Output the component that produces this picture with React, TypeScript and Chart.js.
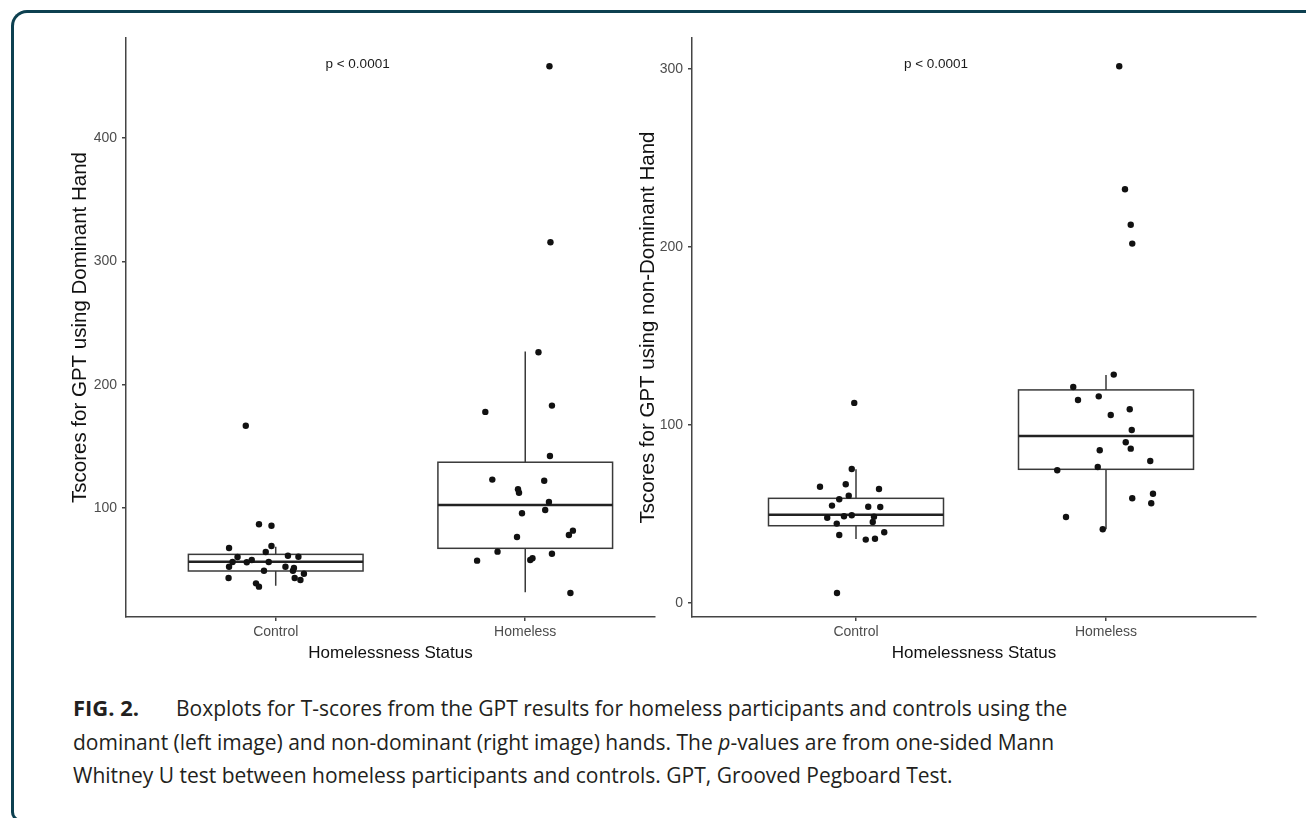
import React, { useEffect, useRef } from "react";
import { Chart, registerables } from "chart.js";

Chart.register(...registerables);

// ---------- data ----------
const categories = ["Control", "Homeless"];
const categoryPositions = [1, 2];

// Left panel: dominant hand
const domTicks = [100, 200, 300, 400];
const domControlValues = [86.8, 85.6, 69.2, 64.3, 67.6, 61.3, 60.5, 60.3, 56.2, 52.4, 56.0, 57.8, 56.2, 52.4, 51.3, 49.1, 49.1, 46.7, 43.2, 43.2, 41.6, 38.9, 36.2, 166.7];
const domControlJitter = [-0.067, -0.017, -0.017, -0.04, -0.187, 0.049, 0.091, -0.153, -0.173, -0.187, -0.116, -0.096, -0.028, 0.039, 0.073, 0.069, -0.047, 0.113, -0.189, 0.076, 0.099, -0.079, -0.067, -0.12];
const domHomelessValues = [226.3, 177.9, 183.0, 142.2, 123.0, 122.1, 115.2, 112.4, 104.9, 98.4, 95.7, 81.6, 78.1, 76.5, 64.6, 57.3, 62.9, 57.8, 59.2, 31.1, 458.2, 315.5];
const domHomelessJitter = [0.053, -0.16, 0.107, 0.099, -0.132, 0.076, -0.029, -0.025, 0.095, 0.08, -0.013, 0.191, 0.175, -0.033, -0.111, -0.193, 0.107, 0.02, 0.029, 0.181, 0.097, 0.101];
// [lower whisker, Q1, median, Q3, upper whisker]
const domControlBox = [37.0, 48.9, 56.4, 62.4, 68.6];
const domHomelessBox = [31.6, 67.3, 102.4, 137.1, 226.8];

// Right panel: non-dominant hand
const nonTicks = [0, 100, 200, 300];
const nonControlValues = [112.4, 75.3, 66.7, 64.0, 60.3, 58.3, 54.7, 54.1, 53.9, 48.7, 49.3, 47.9, 48.5, 45.5, 44.6, 39.7, 38.2, 35.6, 36.1, 65.3, 5.6];
const nonControlJitter = [-0.007, -0.017, -0.041, 0.092, -0.029, -0.067, -0.096, 0.049, 0.097, -0.048, -0.017, -0.115, 0.072, 0.067, -0.077, 0.113, -0.067, 0.039, 0.076, -0.144, -0.076];
const nonHomelessValues = [128.3, 121.3, 114.0, 116.1, 108.8, 105.6, 97.2, 90.3, 86.7, 85.8, 79.8, 74.6, 76.4, 61.4, 58.8, 56.0, 48.3, 41.4, 301.5, 232.4, 212.5, 201.9];
const nonHomelessJitter = [0.031, -0.131, -0.112, -0.029, 0.095, 0.019, 0.103, 0.079, 0.099, -0.025, 0.177, -0.195, -0.033, 0.188, 0.105, 0.181, -0.16, -0.013, 0.053, 0.076, 0.099, 0.105];
const nonControlBox = [36.0, 43.4, 49.6, 58.8, 75.1];
const nonHomelessBox = [41.4, 75.1, 93.8, 119.7, 128.1];

const pText = "p < 0.0001";

// ---------- styling ----------
const FONT = "'Liberation Sans', Arial, sans-serif";
const AXIS_COLOR = "#444444";
const TICK_TEXT = "#4d4d4d";

type PanelCfg = {
  yTitle: string;
  yTicks: number[];
  yMin: number;
  yMax: number;
  xMin: number;
  xMax: number;
  control: number[];
  controlJitter: number[];
  homeless: number[];
  homelessJitter: number[];
  boxes: number[][];
  pPos: [number, number];
  padding: { left: number; right: number; top: number; bottom: number };
  yWidth: number;
};

function makeBoxPlugin(boxes: number[][], pPos: [number, number]) {
  return {
    id: "boxes",
    beforeDatasetsDraw(chart: any) {
      const { ctx } = chart;
      const xs = chart.scales.x;
      const ys = chart.scales.y;
      const half = 0.35;
      ctx.save();
      boxes.forEach((b, i) => {
        const c = categoryPositions[i];
        const xl = xs.getPixelForValue(c - half);
        const xr = xs.getPixelForValue(c + half);
        const xc = xs.getPixelForValue(c);
        const [lo, q1, med, q3, hi] = b.map((v) => ys.getPixelForValue(v));
        ctx.strokeStyle = "#3a3a3a";
        ctx.lineWidth = 1.5;
        ctx.beginPath();
        ctx.moveTo(xc, q3);
        ctx.lineTo(xc, hi);
        ctx.moveTo(xc, q1);
        ctx.lineTo(xc, lo);
        ctx.stroke();
        ctx.strokeRect(xl, q3, xr - xl, q1 - q3);
        ctx.lineWidth = 2.6;
        ctx.strokeStyle = "#222";
        ctx.beginPath();
        ctx.moveTo(xl, med);
        ctx.lineTo(xr, med);
        ctx.stroke();
      });
      ctx.restore();
    },
    afterDatasetsDraw(chart: any) {
      const { ctx } = chart;
      const xs = chart.scales.x;
      const ys = chart.scales.y;
      ctx.save();
      ctx.font = `13.5px ${FONT}`;
      ctx.fillStyle = "#1a1a1a";
      ctx.textAlign = "center";
      ctx.textBaseline = "middle";
      ctx.fillText(pText, xs.getPixelForValue(pPos[0]), ys.getPixelForValue(pPos[1]));
      ctx.restore();
    },
  };
}

function Panel({ cfg, left, width }: { cfg: PanelCfg; left: number; width: number }) {
  const ref = useRef<HTMLCanvasElement | null>(null);
  useEffect(() => {
    if (!ref.current) return;
    const points = [
      ...cfg.control.map((v, i) => ({ x: categoryPositions[0] + cfg.controlJitter[i], y: v })),
      ...cfg.homeless.map((v, i) => ({ x: categoryPositions[1] + cfg.homelessJitter[i], y: v })),
    ];
    const chart = new Chart(ref.current, {
      type: "scatter",
      data: {
        datasets: [
          {
            data: points,
            backgroundColor: "#111111",
            borderWidth: 0,
            pointRadius: 3.2,
            pointHoverRadius: 3.2,
          },
        ],
      },
      plugins: [makeBoxPlugin(cfg.boxes, cfg.pPos)],
      options: {
        animation: false,
        responsive: false,
        maintainAspectRatio: false,
        devicePixelRatio: 1,
        layout: { padding: cfg.padding },
        plugins: { legend: { display: false }, tooltip: { enabled: false } },
        scales: {
          x: {
            type: "linear",
            min: cfg.xMin,
            max: cfg.xMax,
            afterBuildTicks: (s: any) => {
              s.ticks = categoryPositions.map((v) => ({ value: v }));
            },
            afterFit: (s: any) => {
              s.height = 51;
            },
            ticks: {
              callback: (v: any) => categories[Math.round(Number(v)) - 1] ?? "",
              color: TICK_TEXT,
              font: { family: FONT, size: 14 },
              padding: 3,
              autoSkip: false,
              maxRotation: 0,
            },
            grid: { display: true, drawOnChartArea: false, drawTicks: true, tickLength: 4, color: AXIS_COLOR, lineWidth: 1.5 },
            border: { display: true, color: AXIS_COLOR, width: 1.5 },
            title: {
              display: true,
              text: "Homelessness Status",
              color: "#111111",
              font: { family: FONT, size: 17 },
              padding: { top: 0, bottom: 4 },
            },
          },
          y: {
            type: "linear",
            min: cfg.yMin,
            max: cfg.yMax,
            afterBuildTicks: (s: any) => {
              s.ticks = cfg.yTicks.map((v) => ({ value: v }));
            },
            afterFit: (s: any) => {
              s.width = cfg.yWidth;
            },
            ticks: {
              color: TICK_TEXT,
              font: { family: FONT, size: 14 },
              padding: 5,
            },
            grid: { display: true, drawOnChartArea: false, drawTicks: true, tickLength: 4, color: AXIS_COLOR, lineWidth: 1.5 },
            border: { display: true, color: AXIS_COLOR, width: 1.5 },
            title: {
              display: true,
              text: cfg.yTitle,
              color: "#111111",
              font: { family: FONT, size: 20.5 },
              padding: { top: 3, bottom: 0 },
            },
          },
        },
      } as any,
    });
    return () => chart.destroy();
  }, [cfg]);
  return (
    <canvas
      ref={ref}
      width={width}
      height={668}
      style={{ position: "absolute", left, top: 0, width, height: 668 }}
    />
  );
}

const leftCfg: PanelCfg = {
  yTitle: "Tscores for GPT using Dominant Hand",
  yTicks: domTicks,
  yMin: 11.6,
  yMax: 481.1,
  xMin: 0.4,
  xMax: 2.52,
  control: domControlValues,
  controlJitter: domControlJitter,
  homeless: domHomelessValues,
  homelessJitter: domHomelessJitter,
  boxes: [domControlBox, domHomelessBox],
  pPos: [1.328, 460],
  padding: { left: 65, right: 5, top: 38, bottom: 0 },
  yWidth: 61,
};

const rightCfg: PanelCfg = {
  yTitle: "Tscores for GPT using non-Dominant Hand",
  yTicks: nonTicks,
  yMin: -7.87,
  yMax: 317.4,
  xMin: 0.344,
  xMax: 2.6,
  control: nonControlValues,
  controlJitter: nonControlJitter,
  homeless: nonHomelessValues,
  homelessJitter: nonHomelessJitter,
  boxes: [nonControlBox, nonHomelessBox],
  pPos: [1.32, 302.8],
  padding: { left: 3, right: 10, top: 38, bottom: 0 },
  yWidth: 59,
};

export default function App() {
  return (
    <div
      style={{
        position: "fixed",
        left: 0,
        top: 0,
        width: 1306,
        height: 818,
        overflow: "hidden",
        background: "#ffffff",
      }}
    >
      <div
        style={{
          position: "absolute",
          left: 11,
          top: 10,
          width: 1400,
          height: 806,
          borderTop: "3px solid #0d4050",
          borderLeft: "3px solid #0d4050",
          borderBottom: "3px solid #0d4050",
          borderTopLeftRadius: 16,
          borderBottomLeftRadius: 10,
        }}
      />
      <Panel cfg={leftCfg} left={0} width={660} />
      <Panel cfg={rightCfg} left={630} width={636} />
      <div
        style={{
          position: "absolute",
          left: 73,
          top: 691,
          fontFamily: "'Open Sans', 'Noto Sans', sans-serif",
          fontSize: 21,
          lineHeight: "33.5px",
          color: "#231f20",
          whiteSpace: "nowrap",
        }}
      >
        <div>
          <b style={{ display: "inline-block", width: 103, fontSize: 22 }}>FIG. 2.</b>
          Boxplots for T-scores from the GPT results for homeless participants and controls using the
        </div>
        <div>
          dominant (left image) and non-dominant (right image) hands. The <i>p</i>-values are from one-sided Mann
        </div>
        <div>Whitney U test between homeless participants and controls. GPT, Grooved Pegboard Test.</div>
      </div>
    </div>
  );
}
